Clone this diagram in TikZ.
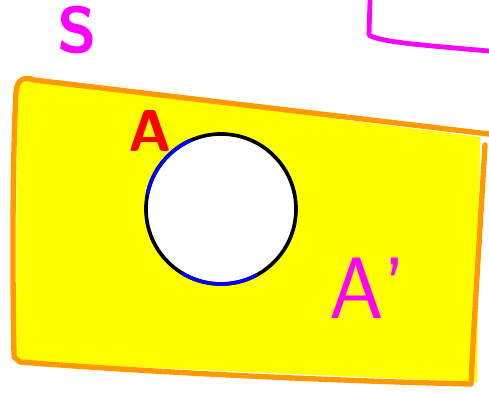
\documentclass[tikz,border=0pt]{standalone}
\usetikzlibrary{positioning}

\definecolor{mag}{RGB}{255,0,255}
\definecolor{orng}{RGB}{255,153,0}
\definecolor{yell}{RGB}{255,255,0}

\begin{document}
\begin{tikzpicture}[x=0.025cm, y=-0.025cm, line cap=round, line join=round,
  pen/.style={line width=3.8pt},
  hand/.style={font=\sffamily\bfseries\fontsize{#1}{#1}\selectfont, inner sep=0pt}]
  \useasboundingbox (0,0) rectangle (489,393);
  \coordinate (C) at (221,209);

  % universe S
  \node[hand=46, text=mag] (S) at (77,30) {S};
  \draw[pen, line width=3.4pt, mag] (370,0) -- (369,35) .. controls (380,42) and (420,45) .. (489,51);

  % the rectangle
  \fill[yell] (17,86) -- (30,80) -- (480,137) -- (477,382) -- (16,362) -- cycle;
  \draw[pen, orng] (14,355) .. controls (12,250) and (13,150) .. (16,92)
    .. controls (17,80) and (24,76) .. (34,80) -- (489,134);
  \draw[pen, orng] (485,145) .. controls (480,230) and (474,320) .. (471,384);
  \draw[pen, orng] (14,357) -- (20,362) .. controls (120,370) and (300,380) .. (470,384);

  % set A
  \fill[white] (C) circle (1.875cm);
  \draw[line width=2.6pt] (C) circle (1.875cm);
  \draw[line width=2.6pt, blue] (C) ++(168:1.875cm) arc (168:114:1.875cm);
  \draw[line width=2.6pt, blue] (C) ++(239:1.875cm) arc (239:298:1.875cm);

  \node[hand=42, text=red] (A) at (150,131) {A};
  \node[text=mag, inner sep=0pt, font=\sffamily\fontsize{62}{62}\selectfont] (Ac) at (368,288) {A\textquoteright};
\end{tikzpicture}
\end{document}
